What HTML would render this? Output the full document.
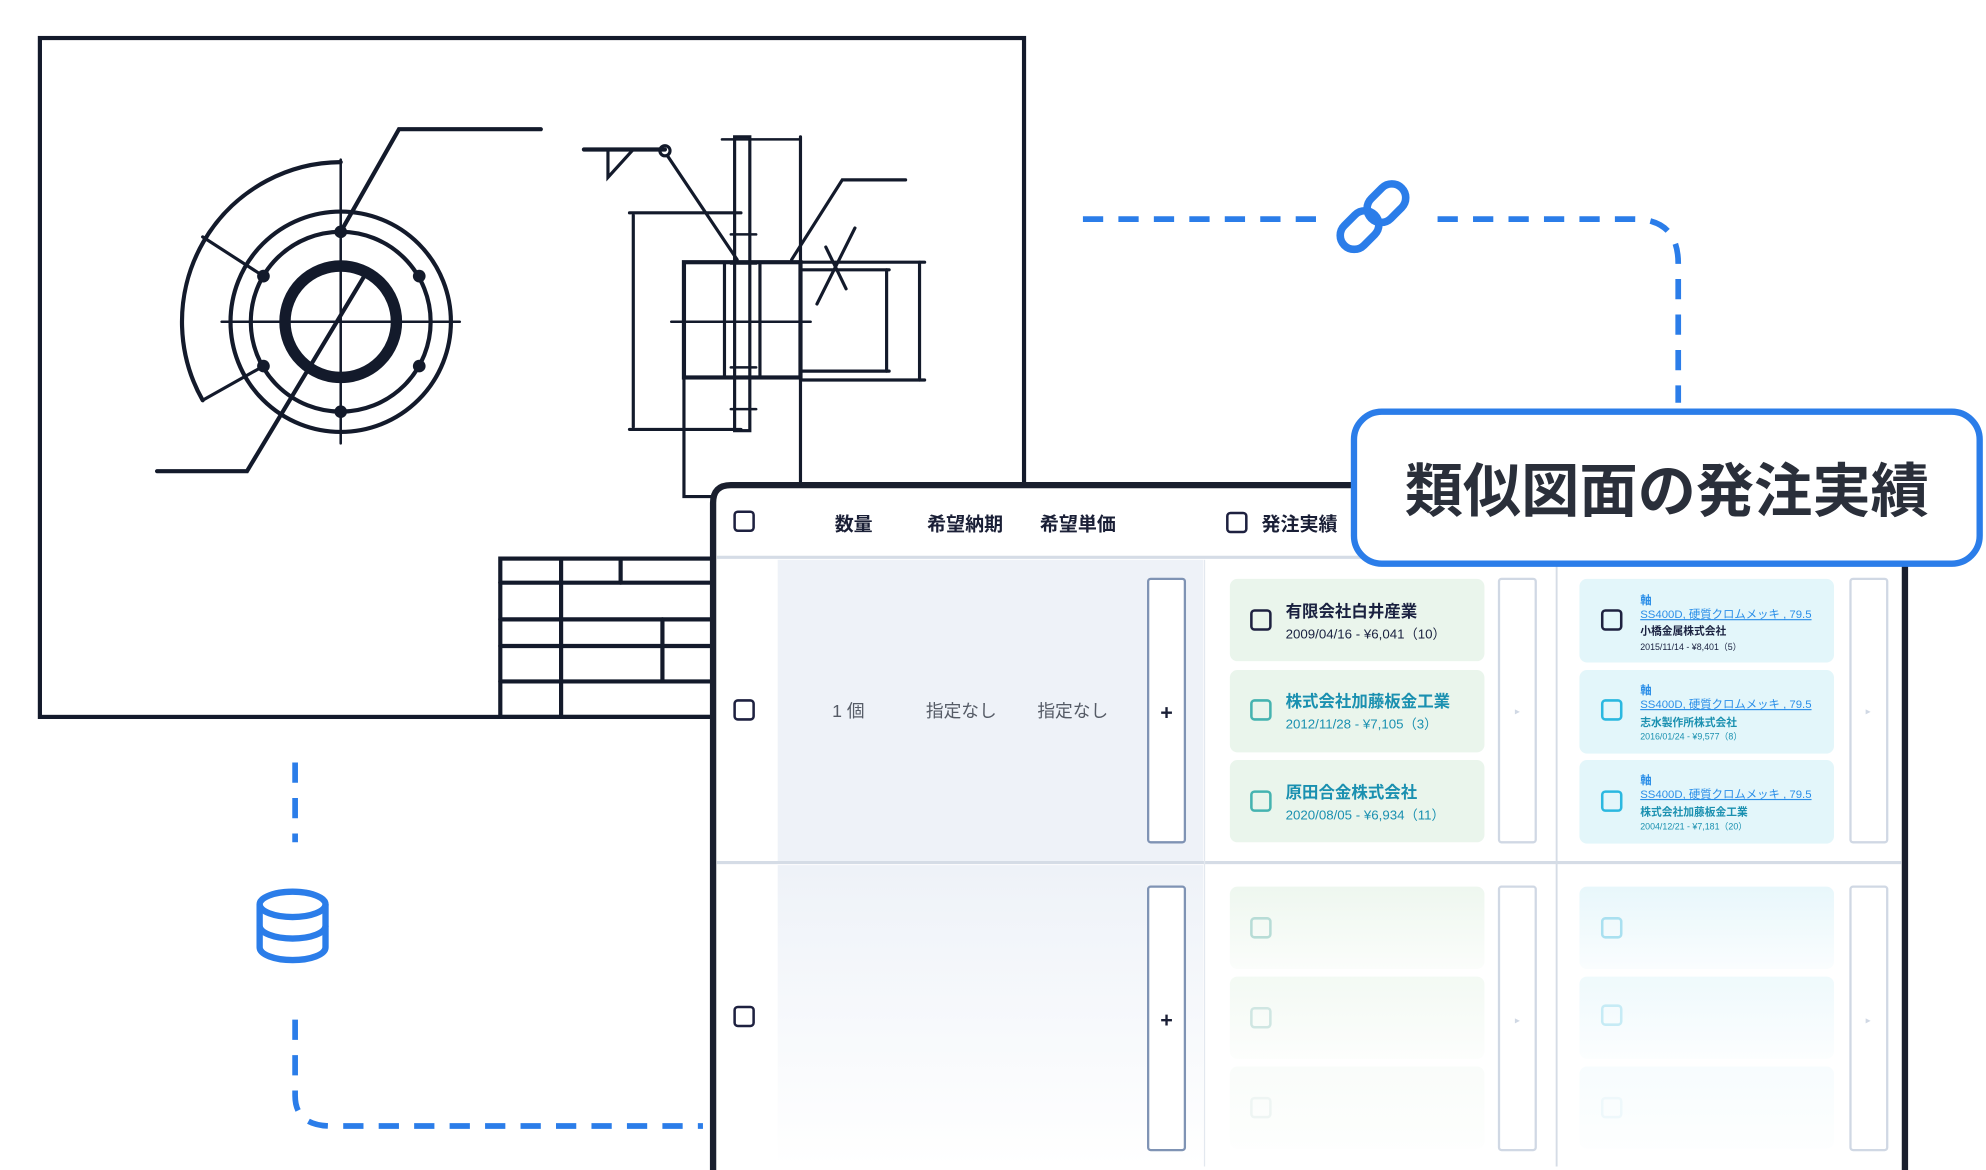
<!DOCTYPE html>
<html><head><meta charset="utf-8"><style>
html,body{margin:0;padding:0;background:#fff;width:1986px;height:1170px;overflow:hidden}
svg{display:block}
text{font-family:"Liberation Sans","Noto Sans CJK JP",sans-serif}
</style></head><body>
<svg width="1986" height="1170" viewBox="0 0 1568 923.7" xmlns="http://www.w3.org/2000/svg">
<defs>
<linearGradient id="fadeG" x1="0" y1="0" x2="0" y2="1"><stop offset="0" stop-color="#eef2f8"/><stop offset="1" stop-color="#ffffff"/></linearGradient>
<linearGradient id="fadeGreen" x1="0" y1="0" x2="0" y2="1"><stop offset="0" stop-color="#eef7ef"/><stop offset="1" stop-color="#fbfdfb"/></linearGradient>
<linearGradient id="fadeBlue" x1="0" y1="0" x2="0" y2="1"><stop offset="0" stop-color="#e8f7fb"/><stop offset="1" stop-color="#fafdfe"/></linearGradient>
</defs>
<g fill="none" stroke="#131a2b" stroke-width="3.3" stroke-linecap="round">
<rect x="31.5" y="30" width="777" height="536"/>
<circle cx="269" cy="254" r="44" stroke-width="9"/>
<circle cx="269" cy="254" r="87"/>
<circle cx="269" cy="254" r="71"/>
<line x1="175" y1="254" x2="363" y2="254" stroke-width="2"/>
<line x1="269" y1="126" x2="269" y2="350" stroke-width="2"/>
<path d="M269 128 A126 126 0 0 0 160 316"/>
<line x1="208" y1="218" x2="160" y2="187" stroke-width="2.5"/>
<line x1="208" y1="289" x2="160" y2="316" stroke-width="2.5"/>
<polyline points="269,183 315,102 427,102"/>
<polyline points="124,372 195,372 290,214" />
<polyline points="461,118 525,118"/>
<polyline points="480,118 480,140 500,118" stroke-width="2.5"/>
<circle cx="525" cy="119" r="4" stroke-width="2.5"/>
<line x1="527" y1="123" x2="582" y2="205" stroke-width="2.5"/>
<rect x="580" y="108" width="12" height="232" stroke-width="2.5"/>
<line x1="570" y1="110" x2="632" y2="110" stroke-width="2"/>
<line x1="632" y1="108" x2="632" y2="380" stroke-width="2.5"/>
<line x1="497" y1="168" x2="585" y2="168" stroke-width="2.5"/>
<line x1="497" y1="339" x2="585" y2="339" stroke-width="2.5"/>
<line x1="500" y1="170" x2="500" y2="337" stroke-width="2.5"/>
<rect x="540" y="207" width="92" height="91"/>
<line x1="572" y1="207" x2="572" y2="298" stroke-width="2.5"/>
<line x1="600" y1="207" x2="600" y2="298" stroke-width="2.5"/>
<line x1="632" y1="207" x2="730" y2="207" stroke-width="2.5"/>
<line x1="632" y1="300" x2="730" y2="300" stroke-width="2.5"/>
<line x1="632" y1="213" x2="702" y2="213" stroke-width="2.5"/>
<line x1="632" y1="293" x2="702" y2="293" stroke-width="2.5"/>
<line x1="700" y1="213" x2="700" y2="293" stroke-width="2.5"/>
<line x1="726" y1="207" x2="726" y2="300" stroke-width="2.5"/>
<line x1="530" y1="254" x2="640" y2="254" stroke-width="2"/>
<polyline points="625,205 665,142 715,142" stroke-width="2.5"/>
<line x1="645" y1="240" x2="675" y2="180" stroke-width="2.5"/>
<line x1="652" y1="195" x2="668" y2="228" stroke-width="2.5"/>
<polyline points="540,298 540,392 565,392" stroke-width="2.5"/>
<line x1="577" y1="185" x2="597" y2="185" stroke-width="2"/>
<line x1="577" y1="208" x2="597" y2="208" stroke-width="2"/>
<line x1="577" y1="290" x2="597" y2="290" stroke-width="2"/>
<line x1="577" y1="323" x2="597" y2="323" stroke-width="2"/>
<rect x="395" y="441" width="170" height="125"/>
<line x1="395" y1="460" x2="565" y2="460"/>
<line x1="395" y1="489" x2="565" y2="489"/>
<line x1="395" y1="510" x2="565" y2="510"/>
<line x1="395" y1="538" x2="565" y2="538"/>
<line x1="443" y1="441" x2="443" y2="566"/>
<line x1="490" y1="441" x2="490" y2="460"/>
<line x1="523" y1="489" x2="523" y2="538"/>
</g>
<g fill="#131a2b">
<circle cx="269" cy="183" r="5"/><circle cx="269" cy="325" r="5"/>
<circle cx="208" cy="218" r="5"/><circle cx="331" cy="218" r="5"/>
<circle cx="208" cy="289" r="5"/><circle cx="331" cy="289" r="5"/>
</g>

<g fill="none" stroke="#2b7de9" stroke-width="4.5" stroke-dasharray="16 12">
<path d="M855 173 H1040"/>
<path d="M1135 173 H1290 Q1325 173 1325 208 V318"/>
<path d="M233 602 V665"/>
<path d="M233 805 V865 Q233 889 262 889 H555"/>
</g>
<g fill="none" stroke="#2b7de9" stroke-width="6" stroke-linecap="round" transform="translate(1084 171) rotate(-45)">
<rect x="-32" y="-11" width="34" height="22" rx="11"/>
<rect x="-2" y="-11" width="34" height="22" rx="11"/>
</g>
<g fill="none" stroke="#2b7de9" stroke-width="5">
<ellipse cx="231" cy="714" rx="26" ry="10"/>
<path d="M205 714 V748 A26 10 0 0 0 257 748 V714"/>
<path d="M205 731 A26 10 0 0 0 257 731"/>
</g>

<path d="M563 923.7 V397 Q563 383 577 383 H1490 Q1504 383 1504 397 V923.7 Z" fill="#fff"/>
<path d="M563 923.7 V397 Q563 383 577 383 H1490 Q1504 383 1504 397 V923.7" fill="none" stroke="#1a1f2e" stroke-width="5"/>
<rect x="614" y="442" width="336" height="238" fill="#eef2f8"/>
<rect x="614" y="683" width="336" height="238" fill="url(#fadeG)"/>
<line x1="566" y1="440" x2="1501" y2="440" stroke="#d5dce6" stroke-width="2.5"/>
<line x1="566" y1="681" x2="1501" y2="681" stroke="#d5dce6" stroke-width="2.5"/>
<line x1="1229" y1="442" x2="1229" y2="921" stroke="#d5dce6" stroke-width="1.5"/>
<line x1="951" y1="442" x2="951" y2="921" stroke="#e3e8ef" stroke-width="1"/>

<g fill="none" stroke="#1e2140" stroke-width="2">
<rect x="580" y="404" width="15" height="15" rx="2.5"/>
<rect x="580" y="553" width="15" height="15" rx="2.5"/>
<rect x="580" y="795" width="15" height="15" rx="2.5"/>
<rect x="969" y="405" width="15" height="15" rx="2.5"/>
</g>
<g font-size="15" font-weight="bold" fill="#1a1f36" text-anchor="middle">
<text x="674" y="419">数量</text>
<text x="762" y="419">希望納期</text>
<text x="851" y="419">希望単価</text>
<text x="1026" y="419">発注実績</text>
</g>
<g font-size="14" fill="#555b66">
<text x="657" y="566">1 個</text>
<text x="731" y="566">指定なし</text>
<text x="819" y="566">指定なし</text>
</g>
<rect x="906.5" y="457" width="29" height="208" rx="2" fill="#fff" stroke="#7f93b4" stroke-width="1.8"/>
<rect x="906.5" y="700" width="29" height="208" rx="2" fill="#fff" stroke="#7f93b4" stroke-width="1.8"/>
<text x="921" y="568" font-size="17" font-weight="bold" text-anchor="middle" fill="#1a1f36">+</text>
<text x="921" y="811" font-size="17" font-weight="bold" text-anchor="middle" fill="#1a1f36">+</text>
<g fill="#fff" stroke="#d0d8e4" stroke-width="1.8">
<rect x="1183.5" y="457" width="29" height="208" rx="2"/>
<rect x="1461" y="457" width="29" height="208" rx="2"/>
<rect x="1183.5" y="700" width="29" height="208" rx="2"/>
<rect x="1461" y="700" width="29" height="208" rx="2"/>
</g>
<g font-size="8" fill="#d0d8e4"><text x="1196" y="564">▸</text><text x="1473" y="564">▸</text><text x="1196" y="808">▸</text><text x="1473" y="808">▸</text></g>

<g fill="#eaf5ec">
<rect x="971" y="457" width="201" height="65" rx="6"/>
<rect x="971" y="529" width="201" height="65" rx="6"/>
<rect x="971" y="600" width="201" height="65" rx="6"/>
</g>
<rect x="988" y="482" width="15" height="15" rx="2.5" fill="none" stroke="#1e2140" stroke-width="2"/>
<rect x="988" y="553" width="15" height="15" rx="2.5" fill="none" stroke="#45b3b0" stroke-width="2"/>
<rect x="988" y="625" width="15" height="15" rx="2.5" fill="none" stroke="#45b3b0" stroke-width="2"/>
<text x="1015" y="487" font-size="13" font-weight="bold" fill="#1a2140">有限会社白井産業</text>
<text x="1015" y="504" font-size="10.5" fill="#1a2140">2009/04/16 - ¥6,041（10）</text>
<text x="1015" y="558" font-size="13" font-weight="bold" fill="#1a90b0">株式会社加藤板金工業</text>
<text x="1015" y="575" font-size="10.5" fill="#1a90b0">2012/11/28 - ¥7,105（3）</text>
<text x="1015" y="630" font-size="13" font-weight="bold" fill="#1a90b0">原田合金株式会社</text>
<text x="1015" y="647" font-size="10.5" fill="#1a90b0">2020/08/05 - ¥6,934（11）</text>

<g fill="#e3f6fa">
<rect x="1247" y="457" width="201" height="66" rx="6"/>
<rect x="1247" y="529" width="201" height="66" rx="6"/>
<rect x="1247" y="600" width="201" height="66" rx="6"/>
</g>
<rect x="1265" y="482" width="15" height="15" rx="2.5" fill="none" stroke="#1e2140" stroke-width="2"/>
<rect x="1265" y="553" width="15" height="15" rx="2.5" fill="none" stroke="#2bb8e0" stroke-width="2"/>
<rect x="1265" y="625" width="15" height="15" rx="2.5" fill="none" stroke="#2bb8e0" stroke-width="2"/>
<g font-size="9" fill="#2a8ee8">
<text x="1295" y="477" font-weight="bold">軸</text>
<text x="1295" y="548" font-weight="bold">軸</text>
<text x="1295" y="619" font-weight="bold">軸</text>
<text x="1295" y="488" text-decoration="underline">SS400D, 硬質クロムメッキ , 79.5</text>
<text x="1295" y="559" text-decoration="underline">SS400D, 硬質クロムメッキ , 79.5</text>
<text x="1295" y="630" text-decoration="underline">SS400D, 硬質クロムメッキ , 79.5</text>
</g>
<text x="1295" y="501" font-size="8.5" font-weight="bold" fill="#1a2140">小橋金属株式会社</text>
<text x="1295" y="513" font-size="7" fill="#1a2140">2015/11/14 - ¥8,401（5）</text>
<text x="1295" y="573" font-size="8.5" font-weight="bold" fill="#1a90b0">志水製作所株式会社</text>
<text x="1295" y="584" font-size="7" fill="#1a90b0">2016/01/24 - ¥9,577（8）</text>
<text x="1295" y="644" font-size="8.5" font-weight="bold" fill="#1a90b0">株式会社加藤板金工業</text>
<text x="1295" y="655" font-size="7" fill="#1a90b0">2004/12/21 - ¥7,181（20）</text>

<g fill="url(#fadeGreen)">
<rect x="971" y="700" width="201" height="65" rx="6"/>
<rect x="971" y="771" width="201" height="65" rx="6" opacity="0.7"/>
<rect x="971" y="842" width="201" height="65" rx="6" opacity="0.35"/>
</g>
<g fill="url(#fadeBlue)">
<rect x="1247" y="700" width="201" height="65" rx="6"/>
<rect x="1247" y="771" width="201" height="65" rx="6" opacity="0.7"/>
<rect x="1247" y="842" width="201" height="65" rx="6" opacity="0.35"/>
</g>
<g fill="none" stroke-width="2">
<rect x="988" y="725" width="15" height="15" rx="2.5" stroke="#b7dcd6"/>
<rect x="988" y="796" width="15" height="15" rx="2.5" stroke="#cfe6e2"/>
<rect x="988" y="867" width="15" height="15" rx="2.5" stroke="#eef5f3"/>
<rect x="1265" y="725" width="15" height="15" rx="2.5" stroke="#a9e0f0"/>
<rect x="1265" y="794" width="15" height="15" rx="2.5" stroke="#c6ebf5"/>
<rect x="1265" y="867" width="15" height="15" rx="2.5" stroke="#eef8fb"/>
</g>

<rect x="1069" y="325" width="494" height="120" rx="22" fill="#fff" stroke="#2b7de9" stroke-width="5"/>
<text x="1316" y="404" font-size="46" font-weight="bold" fill="#2a2f3a" text-anchor="middle">類似図面の発注実績</text>
</svg>
</body></html>
